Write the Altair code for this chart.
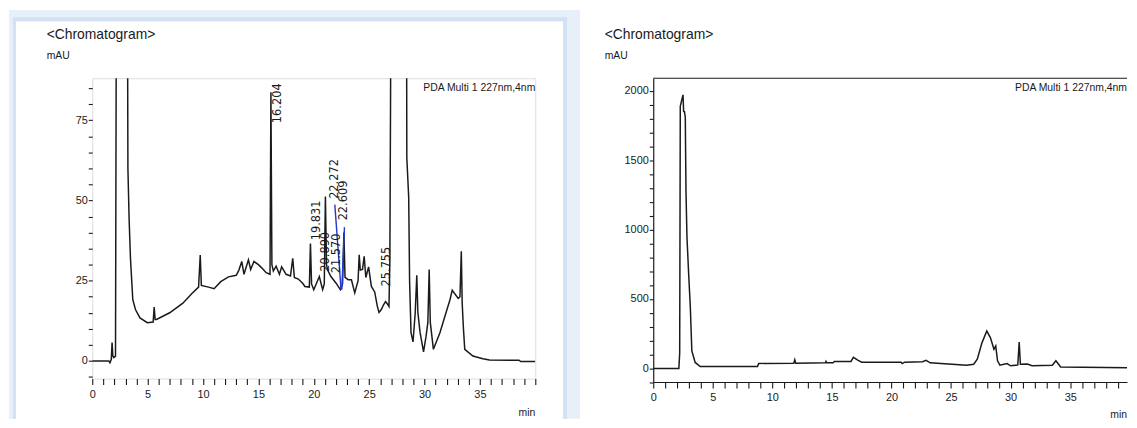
import altair as alt
import pandas as pd

# ---------------- data ----------------
# Left chromatogram: retention time (min) and absorbance (mAU); 150 = off-scale (clipped)
left_time = [0.0, 1.5, 1.6, 1.72, 1.79, 1.86, 1.95, 2.1, 2.2, 3.15, 3.22, 3.33, 3.45, 3.66, 3.9,
             4.31, 4.97, 5.5, 5.59, 5.68, 5.8, 6.99, 8.18, 9.0, 9.6, 9.75, 9.85, 10.5, 11.0, 11.6,
             12.3, 13.0, 13.24, 13.5, 13.7, 14.1, 14.3, 14.6, 15.0, 15.3, 15.7, 16.05, 16.13, 16.22,
             16.35, 16.6, 16.9, 17.1, 17.5, 17.9, 18.1, 18.25, 18.6, 19.0, 19.2, 19.6, 19.7, 19.8,
             20.0, 20.5, 20.8, 20.95, 21.05, 21.15, 21.25, 21.55, 22.0, 22.4, 22.6, 22.72, 22.82,
             23.1, 23.4, 23.7, 24.0, 24.1, 24.2, 24.4, 24.55, 24.7, 24.95, 25.2, 25.5, 25.74, 25.89,
             26.1, 26.3, 26.48, 26.7, 26.79, 26.87, 26.93, 27.0, 28.36, 28.4, 28.57, 28.65, 28.78,
             28.96, 29.16, 29.3, 29.4, 29.6, 29.91, 30.14, 30.3, 30.42, 30.52, 30.8, 31.39, 31.84,
             32.29, 32.5, 33.04, 33.2, 33.32, 33.4, 33.5, 33.63, 34.37, 35.27, 35.86, 38.53, 38.69, 40.0]
left_mau = [0.0, 0.0, -0.6, 0.5, 5.7, 1.5, 1.0, 1.5, 150, 150, 60, 44, 32, 19.1, 16,
            13.4, 11.9, 12.1, 16.8, 12.9, 12.9, 15, 18, 21, 23, 33, 23.5, 23, 22.5, 24.7,
            26.2, 26.7, 28.3, 31, 27, 31.5, 28.5, 31, 30, 29, 27.5, 27, 83.7, 30,
            28, 29.5, 27, 29.3, 27, 26.5, 32, 26, 25.5, 24.2, 23.2, 23, 36.6, 24,
            22.2, 26.3, 22.2, 24, 51.2, 30, 28.3, 26.3, 24.3, 22.2, 24, 40, 26,
            25.3, 25.3, 21.2, 25, 33.1, 28.3, 28.5, 32.6, 26, 29.3, 23.2, 21.5, 17, 15.1,
            16, 17.5, 18.5, 17.5, 17, 31.4, 79.9, 150, 150, 63.3, 51, 25, 8.8,
            5.9, 15, 26.7, 15, 8.8, 2.8, 7.7, 12, 28.5, 12, 3.6, 8.8, 13.9,
            19, 22, 19.5, 20, 34.2, 18, 10.8, 3.6, 1.5, 0.7, 0.3, 0.2, -0.2, -0.2]

# Blue peak marker segments on the left trace
blue_seg = ["a", "a", "b", "b"]
blue_time = [21.9, 22.46, 22.53, 22.77]
blue_mau = [48.7, 22.2, 22.2, 41.7]

# Peak retention-time labels (vertical text) on the left trace
peak_text = ["16.204", "19.831", "20.890", "21.570", "22.272", "22.609", "25.755"]
peak_time = [16.75, 20.3, 21.07, 22.1, 21.93, 22.77, 26.57]
peak_mau = [74.1, 37.6, 27.8, 27.3, 50.5, 43.8, 23.2]

# Right chromatogram
right_time = [0.0, 2.15, 2.22, 2.27, 2.38, 2.5, 2.55, 2.62, 2.69, 2.75, 2.83, 2.97, 3.11, 3.24,
              3.52, 3.94, 8.75, 8.85, 11.8, 11.88, 11.96, 14.45, 14.5, 14.55, 15.1, 15.2, 16.6,
              16.8, 17.2, 17.5, 20.8, 20.9, 21.1, 22.6, 22.9, 23.25, 26.3, 26.9, 27.2, 27.6, 28.0,
              28.3, 28.6, 28.75, 28.9, 29.1, 29.7, 30.0, 30.6, 30.72, 30.82, 31.4, 31.8, 33.5,
              33.8, 34.2, 40.0]
right_mau = [0, 0, 110, 1888, 1930, 1971, 1852, 1850, 1810, 1269, 947, 686, 447, 126,
             43, 14, 14, 36, 38, 62, 38, 40, 50, 40, 40, 50, 50,
             80, 58, 45, 45, 35, 45, 48, 58, 40, 23, 30, 66, 186, 269,
             222, 138, 162, 55, 23, 35, 19, 25, 190, 30, 31, 19, 23,
             55, 10, 5]

detector_text = "PDA Multi 1 227nm,4nm"
title_text = "<Chromatogram>"
unit_text = "mAU"
x_unit_text = "min"
x_ticks = list(range(0, 41))
left_y_ticks = list(range(-5, 90, 5))
right_y_ticks = list(range(-100, 2100, 100))

# ---------------- styling ----------------
FONT = "Liberation Sans, Arial, sans-serif"
INK = "#1a1a1a"

left_df = pd.DataFrame({"t": left_time, "mau": left_mau})
right_df = pd.DataFrame({"t": right_time, "mau": right_mau})
blue_df = pd.DataFrame({"seg": blue_seg, "t": blue_time, "mau": blue_mau})
peak_df = pd.DataFrame({"label": peak_text, "t": peak_time, "mau": peak_mau})
one = pd.DataFrame({"k": [0]})


def x_enc(x_max, domain_line):
    return alt.X(
        "t:Q",
        scale=alt.Scale(domain=[0, x_max], nice=False, zero=False),
        axis=alt.Axis(
            values=[v for v in x_ticks if v <= x_max],
            labelExpr="datum.value % 5 === 0 && datum.value < 40 ? datum.label : ''",
            title=None, grid=False, domain=domain_line, domainColor=INK, domainWidth=1.2,
            tickSize=6, tickColor=INK, tickWidth=1.1,
            labelFont=FONT, labelFontSize=11, labelColor=INK, labelPadding=4,
            labelFlush=False, labelOverlap=False,
        ),
    )


def y_enc(domain, ticks, major, domain_line):
    return alt.Y(
        "mau:Q",
        scale=alt.Scale(domain=domain, nice=False, zero=False),
        axis=alt.Axis(
            values=ticks,
            labelExpr=f"datum.value % {major} === 0 ? datum.label : ''",
            title=None, grid=False, domain=domain_line, domainColor=INK, domainWidth=1.2,
            tickSize=4, tickColor=INK, tickWidth=1.1,
            labelFont=FONT, labelFontSize=11, labelColor=INK, labelPadding=1,
            labelOverlap=False, format="d",
        ),
    )


def txt(x, y, s, size, align="left", baseline="alphabetic"):
    return alt.Chart(one).mark_text(
        align=align, baseline=baseline, font=FONT, fontSize=size, color=INK
    ).encode(x=alt.value(x), y=alt.value(y), text=alt.value(s))


def band(x0, x1, y0, y1, color):
    return alt.Chart(one).mark_rect(fill=color, strokeWidth=0).encode(
        x=alt.value(x0), x2=alt.value(x1), y=alt.value(y0), y2=alt.value(y1)
    )


LW, LH = 447, 303
RW, RH = 478, 306.5
R_XMAX = 39.77
L_YDOM = [-5.5, 88.1]
R_YDOM = [-98, 2091]

# light-blue glow frame around the left panel
glow_outer = "#e7eff9"
glow_inner = "#d2e2f4"
glow = [
    band(-84, 492, -68.5, -57.5, glow_outer),
    band(-84, -77, -68.5, 343.5, glow_outer),
    band(475, 492, -68.5, 343.5, glow_outer),
    band(-77, 477, -61.5, -57.5, glow_inner),
    band(-80, -77, -61.5, 343.5, glow_inner),
    band(475, 479, -61.5, 343.5, glow_inner),
]

lx = x_enc(40, False)
ly = y_enc(L_YDOM, left_y_ticks, 25, False)

left_line = alt.Chart(left_df).mark_line(color=INK, strokeWidth=1.5, clip=True).encode(x=lx, y=ly)
blue_line = alt.Chart(blue_df).mark_line(color="#2336d6", strokeWidth=1.4).encode(
    x=lx, y=ly, detail="seg:N"
)
peak_labels = alt.Chart(peak_df).mark_text(
    angle=270, align="left", baseline="middle", font="DejaVu Sans", fontSize=11.5, color=INK
).encode(x=lx, y=ly, text="label:N")

left = alt.layer(
    *glow, left_line, blue_line, peak_labels,
    txt(-46, -39.5, title_text, 14),
    txt(-46, -19.5, unit_text, 10.5),
    txt(LW, 12.8, detector_text, 10.5, align="right"),
    txt(LW, LH + 35, x_unit_text, 10.5, align="right", baseline="middle"),
).properties(width=LW, height=LH)

right_line = alt.Chart(right_df).mark_line(color=INK, strokeWidth=1.5, clip=True).encode(
    x=x_enc(R_XMAX, True), y=y_enc(R_YDOM, right_y_ticks, 500, True)
)
top_rule = alt.Chart(one).mark_rule(color=INK, strokeWidth=1.2).encode(
    x=alt.value(0), x2=alt.value(RW), y=alt.value(0)
)
right = alt.layer(
    right_line, top_rule,
    txt(-49, -39.5, title_text, 14),
    txt(-49, -19.5, unit_text, 10.5),
    txt(RW, 12.8, detector_text, 10.5, align="right"),
    txt(RW, RH + 33, x_unit_text, 10.5, align="right", baseline="middle"),
).properties(width=RW, height=RH, view=alt.ViewBackground(stroke="transparent"))

chart = alt.hconcat(left, right, spacing=119, bounds="flush", padding=0).configure_view(
    stroke=INK, strokeWidth=1.2
).configure(background="white")

chart.save("out.html", embed_options={"renderer": "svg", "actions": False})
